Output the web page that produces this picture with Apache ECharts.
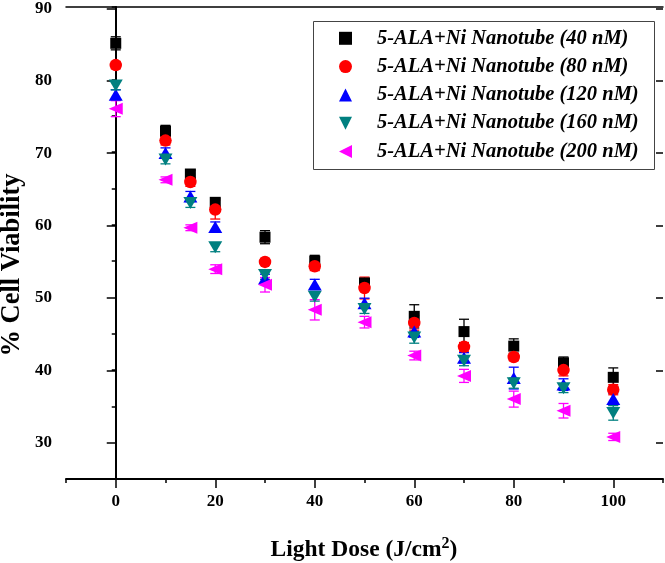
<!DOCTYPE html>
<html>
<head>
<meta charset="utf-8">
<script src="https://cdn.jsdelivr.net/npm/echarts@6/dist/echarts.min.js"></script>
<style>html,body{margin:0;padding:0;background:#fff;}#c{width:665px;height:563px;}</style>
</head>
<body>
<div id="c"></div>
<script>
var doses = [0, 10, 15, 20, 30, 40, 50, 60, 70, 80, 90, 100];
var names = ['5-ALA+Ni Nanotube (40 nM)', '5-ALA+Ni Nanotube (80 nM)', '5-ALA+Ni Nanotube (120 nM)', '5-ALA+Ni Nanotube (160 nM)', '5-ALA+Ni Nanotube (200 nM)'];
var v40  = [85.0, 72.9, 67.0, 63.1, 58.3, 55.0, 52.0, 47.4, 45.3, 43.3, 41.0, 39.0];
var e40  = [0.9, 0.8, 0.5, 0.5, 0.9, 0.8, 0.6, 1.6, 1.7, 1.0, 0.8, 1.3];
var v80  = [82.0, 71.6, 65.9, 62.1, 54.9, 54.3, 51.3, 46.5, 43.2, 41.8, 40.0, 37.3];
var e80  = [0.5, 0.6, 0.6, 1.3, 0.4, 0.6, 1.5, 1.0, 0.6, 0.5, 0.8, 0.7];
var v120 = [77.9, 69.9, 63.9, 59.7, 52.6, 51.8, 49.2, 45.3, 41.7, 38.9, 38.0, 36.0];
var e120 = [0.7, 0.7, 0.7, 0.7, 0.6, 0.7, 0.7, 0.8, 0.7, 1.5, 0.8, 0.8];
var v160 = [79.2, 69.0, 63.0, 56.9, 53.1, 50.1, 48.4, 44.5, 41.3, 38.2, 37.5, 34.1];
var e160 = [0.6, 0.6, 0.6, 0.6, 0.6, 0.6, 0.6, 0.8, 0.7, 0.7, 0.6, 1.0];
var v200 = [76.0, 66.2, 59.6, 53.9, 51.75, 48.3, 46.6, 42.0, 39.2, 36.0, 34.4, 30.8];
var e200 = [1.1, 0.4, 0.4, 0.6, 1.0, 1.4, 0.8, 0.6, 0.9, 1.1, 1.0, 0.5];
var xTickLabels = ['0', '20', '40', '60', '80', '100'];
var yTickLabels = ['30', '40', '50', '60', '70', '80', '90'];

var values = [v40, v80, v120, v160, v200];
var errors = [e40, e80, e120, e160, e200];
var colors = ['#000000', '#ff0000', '#0000ff', '#008080', '#ff00ff'];
var symbols = ['rect', 'circle', 'triangle', 'triangle', 'triangle'];
var legendIcons = ['rect', 'circle', 'path://M5,0 L10,10 L0,10 Z', 'path://M0,0 L10,0 L5,10 Z', 'path://M10,0 L10,10 L0,5 Z'];
var rotations = [0, 0, 0, 180, 90];
var sizes = [[11, 11], 12.5, [14, 12], [14, 12], [12, 14]];
var FONT = '"Liberation Serif","Times New Roman",serif';

var series = [];
values.forEach(function (vals, i) {
  series.push({
    type: 'scatter', name: names[i], xAxisIndex: 0, yAxisIndex: 0,
    symbol: symbols[i], symbolRotate: rotations[i], symbolSize: sizes[i],
    itemStyle: { color: colors[i], opacity: 1 },
    data: doses.map(function (d, k) { return [d, vals[k]]; }),
    z: 3
  });
  series.push({
    type: 'custom', name: names[i] + ' err', xAxisIndex: 0, yAxisIndex: 0,
    data: doses.map(function (d, k) { return [d, vals[k] - errors[i][k], vals[k] + errors[i][k]]; }),
    renderItem: function (params, api) {
      var lo = api.coord([api.value(0), api.value(1)]);
      var hi = api.coord([api.value(0), api.value(2)]);
      var w = 5;
      var st = { stroke: colors[i], lineWidth: 1.3 };
      return { type: 'group', children: [
        { type: 'line', shape: { x1: hi[0], y1: hi[1], x2: lo[0], y2: lo[1] }, style: st },
        { type: 'line', shape: { x1: hi[0] - w, y1: hi[1], x2: hi[0] + w, y2: hi[1] }, style: st },
        { type: 'line', shape: { x1: lo[0] - w, y1: lo[1], x2: lo[0] + w, y2: lo[1] }, style: st }
      ]};
    },
    z: 3, silent: true
  });
});

var legendData = names.map(function (n, i) {
  return { name: n, icon: legendIcons[i], itemStyle: { color: colors[i] } };
});

var labelStyle = { color: '#000', fontSize: 17, fontWeight: 'bold', fontFamily: FONT };
var chart = echarts.init(document.getElementById('c'), null, { renderer: 'canvas' });
chart.setOption({
  animation: false,
  backgroundColor: '#fff',
  grid: [
    { left: 66, right: 2, top: 7, bottom: 84 },
    { left: 115.75, right: 51.75, top: 7, bottom: 120.31 }
  ],
  xAxis: [
    { type: 'value', gridIndex: 0, min: -10, max: 110, interval: 10, position: 'bottom',
      axisLine: { lineStyle: { color: '#000', width: 2 } },
      axisTick: { length: 4, lineStyle: { color: '#000', width: 1.5 } },
      axisLabel: { show: false }, splitLine: { show: false } },
    { type: 'value', gridIndex: 1, min: 0, max: 100, interval: 20, position: 'bottom', offset: 36.31,
      axisLine: { show: false },
      axisTick: { length: 9, lineStyle: { color: '#000', width: 1.5 } },
      axisLabel: Object.assign({ margin: 14, formatter: function (v) { return xTickLabels[Math.round(v / 20)]; } }, labelStyle),
      splitLine: { show: false } },
    { type: 'value', gridIndex: 0, min: -10, max: 110, position: 'top',
      axisLine: { lineStyle: { color: '#000', width: 1.5 } },
      axisTick: { show: false }, axisLabel: { show: false }, splitLine: { show: false } }
  ],
  yAxis: [
    { type: 'value', gridIndex: 0, min: 25, max: 90, interval: 5, position: 'left',
      axisLine: { show: true, lineStyle: { color: '#000', width: 2 } },
      axisTick: { show: true, length: 4, lineStyle: { color: '#000', width: 1.5 } },
      axisLabel: { show: false }, splitLine: { show: false } },
    { type: 'value', gridIndex: 1, min: 30, max: 90, interval: 10, position: 'left', offset: 49.75,
      axisLine: { show: false },
      axisTick: { show: true, length: 9, lineStyle: { color: '#000', width: 1.5 } },
      axisLabel: Object.assign({ margin: 14, formatter: function (v) { return yTickLabels[Math.round((v - 30) / 10)]; } }, labelStyle),
      splitLine: { show: false } },
    { type: 'value', gridIndex: 0, min: 25, max: 90, interval: 5, position: 'right',
      axisLine: { show: true, lineStyle: { color: '#000', width: 1.5 } },
      axisTick: { show: true, inside: true, length: 3, lineStyle: { color: '#000', width: 1.5 } },
      axisLabel: { show: false }, splitLine: { show: false } },
    { type: 'value', gridIndex: 1, min: 30, max: 90, interval: 10, position: 'right', offset: 49.75,
      axisLine: { show: false },
      axisTick: { show: true, inside: true, length: 7, lineStyle: { color: '#000', width: 1.5 } },
      axisLabel: { show: false }, splitLine: { show: false } }
  ],
  legend: {
    data: legendData, orient: 'vertical', left: 339, top: 28.3, padding: 0,
    itemWidth: 13, itemHeight: 13, itemGap: 8.3,
    textStyle: { color: '#000', fontSize: 20.5, fontWeight: 'bold', fontStyle: 'italic', fontFamily: FONT, lineHeight: 20, padding: [0, 0, 0, 20] },
    selectedMode: false
  },
  graphic: [
    { type: 'rect', left: 311, top: 19, shape: { width: 341, height: 148 }, style: { fill: 'none', stroke: '#444', lineWidth: 1 }, z: 10 },
    { type: 'text', x: 12, y: 265, rotation: Math.PI / 2,
      style: { text: '% Cell Viability', fontSize: 26.5, fontWeight: 'bold', fontFamily: FONT, fill: '#000', align: 'center', verticalAlign: 'middle' } },
    { type: 'text', x: 364, y: 549,
      style: { text: '{a|Light Dose (J/cm}{s|2}{a|)}', align: 'center', verticalAlign: 'middle',
        rich: { a: { fontSize: 23.5, fontWeight: 'bold', fontFamily: FONT, fill: '#000', verticalAlign: 'bottom' },
                s: { fontSize: 16, fontWeight: 'bold', fontFamily: FONT, fill: '#000', verticalAlign: 'top', padding: [0, 0, 10, 0] } } } }
  ],
  series: series
});
</script>
</body>
</html>
